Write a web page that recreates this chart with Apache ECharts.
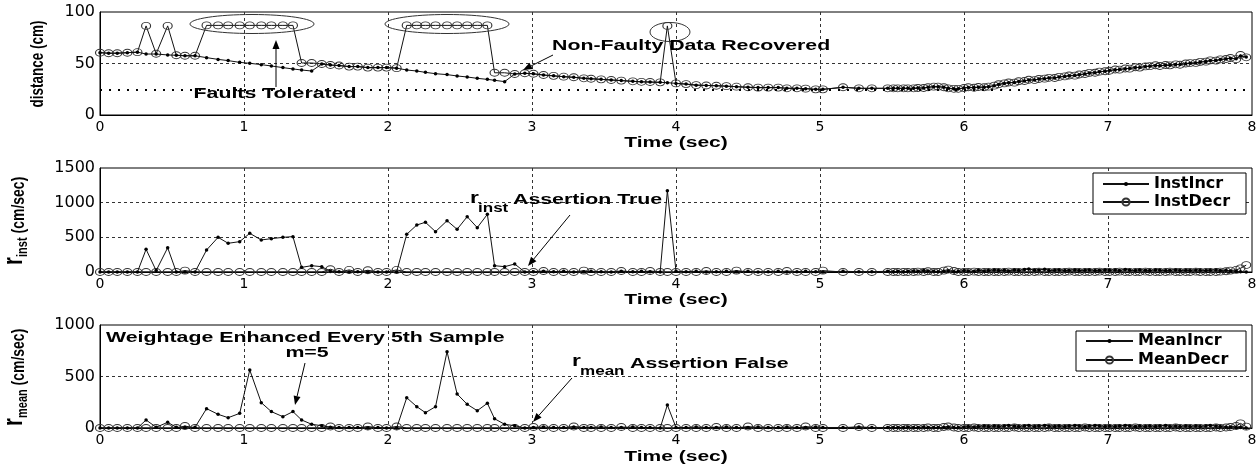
<!DOCTYPE html>
<html><head><meta charset="utf-8">
<script src="https://cdn.jsdelivr.net/npm/echarts@6/dist/echarts.min.js"></script>
<style>html,body{margin:0;padding:0;background:#fff}#c{width:1260px;height:469px}</style>
</head><body><div id="c"></div>
<script>
// ---------------- data ----------------
const T = [
0,0.06,0.12,0.19,0.26,0.32,0.39,0.47,0.53,0.59,
0.66,0.74,0.82,0.89,0.97,1.04,1.12,1.19,1.27,1.34,
1.40,1.47,1.54,1.60,1.66,1.73,1.79,1.86,1.93,1.99,
2.06,2.13,2.20,2.26,2.33,2.41,2.48,2.55,2.62,2.69,
2.74,2.81,2.88,2.95,3.01,3.08,3.15,3.22,3.29,3.36,
3.41,3.48,3.55,3.62,3.70,3.76,3.82,3.89,3.94,4.00,
4.07,4.14,4.21,4.28,4.35,4.42,4.50,4.57,4.64,4.71,
4.77,4.84,4.90,4.97,5.02,5.16,5.27,5.36,
5.47,5.51,5.54,5.58,5.61,5.65,5.68,5.72,5.75,5.79,5.82,5.86,5.89,5.93,5.96,
6.00,6.03,6.07,6.10,6.14,6.17,6.21,6.24,6.28,6.31,6.35,6.38,6.42,6.45,6.49,6.52,6.56,6.59,6.63,6.66,6.70,6.73,6.77,6.80,6.84,6.87,6.91,6.94,6.98,
7.01,7.05,7.08,7.12,7.15,7.19,7.22,7.26,7.29,7.33,7.36,7.40,7.43,7.47,7.50,7.54,7.57,7.61,7.64,7.68,7.71,7.75,7.78,7.82,7.85,7.89,7.92,7.96
];
const distRaw = [
60.5,60,60,60.5,61,86.5,59.5,86.5,58,57.5,
57.5,87,87,87,87,87,87,87,87,87,
50.5,50.5,49.5,48.5,48,47,47,46,46,46,
45.5,87,87,87,87,87,87,87,87,87,
41,41,39.8,40.5,40,38.8,38,37.2,36.6,35.6,
35.2,34.6,34,33.4,32.7,32.2,32,31.7,86.5,30.7,
30,29,28.7,28.4,28,27.5,26.9,26.6,26.6,26.6,
25.9,25.9,25.6,24.9,24.9,26.9,25.9,25.9,
25.9,25.9,25.9,25.9,25.9,25.9,26.2,26.2,26.9,27.5,27.5,26.9,25.9,25.4,25.4,
26.2,26.9,26.4,27.2,26.9,27.5,28.5,29.8,30.7,31.6,31.4,32.8,33.0,34.2,33.9,35.0,35.3,36.1,35.9,37.0,37.5,38.3,38.2,39.3,39.8,40.9,41.0,42.1,42.5,
43.0,44.2,44.0,45.2,45.0,46.3,46.0,47.2,47.4,48.3,47.6,48.6,48.2,49.2,48.8,50.0,50.4,50.6,51.6,51.8,53.0,52.8,54.0,54.4,55.4,54.2,58.3,56.0
];
const distFilt = [
60.5,60,60,60.5,61,59.2,59.2,58.3,58,57.5,
57.5,55.7,54,52.8,51.1,50.2,48.9,47.6,46,44.7,
43.7,42.7,49.5,48.5,48,47,47,46,46,46,
45.5,43.7,42.7,41.4,40.1,39.2,37.9,36.9,35.6,34.6,
33.7,32.4,39.8,40.5,40,38.8,38,37.2,36.6,35.6,
35.2,34.6,34,33.4,32.7,32.2,32,31.7,31.4,30.7,
30,29,28.7,28.4,28,27.5,26.9,26.6,26.6,26.6,
25.9,25.9,25.6,24.9,24.9,26.9,25.9,25.9,
25.9,25.9,25.9,25.9,25.9,25.9,26.2,26.2,26.9,27.5,27.5,26.9,25.9,25.4,25.4,
26.2,26.7,26.6,27.0,27.0,27.5,28.4,29.6,30.6,31.4,31.5,32.6,33.1,34.0,34.0,34.9,35.3,35.9,36.0,36.9,37.5,38.1,38.3,39.1,39.8,40.7,41.1,41.9,42.5,
43.1,44.0,44.1,45.0,45.1,46.1,46.2,47.0,47.4,48.0,47.8,48.4,48.4,49.0,49.0,49.8,50.3,50.6,51.4,51.9,52.8,52.9,53.8,54.4,55.1,54.6,57.2,56.2
];
const instIncr = [
0,0,0,0,0,327,20,350,0,0,0,
317,500,414,438,558,462,481,500,510,
67,91,77,10,5,0,5,0,0,0,0,
544,678,717,582,740,616,798,640,832,
91,77,115,
0,5,10,5,10,0,5,10,5,0,10,5,10,5,0,
1173,
10,5,10,0,5,10,5,10,0,5,10,0,5,10,5,0,10,5,5,
10,5,10,5,10,15,10,20,15,10,5,10,15,5,10,
20,15,10,25,15,20,30,20,25,15,30,20,35,45,25,30,40,20,25,30,20,25,30,20,25,30,20,25,30,
25,30,20,35,25,20,30,25,20,30,25,20,25,30,20,25,20,30,25,20,25,30,20,25,15,10,5,0
];
const instDecr = [
0,0,0,0,0,0,0,0,0,20,
0,0,0,0,0,0,0,0,0,0,
0,0,0,40,0,30,0,25,0,0,
30,0,0,0,0,0,0,0,0,0,
0,0,0,0,0,15,0,0,0,20,
0,0,0,15,0,0,15,0,0,0,
0,0,15,0,0,20,0,0,0,0,
15,0,0,0,20,0,0,0,
0,0,0,0,0,0,5,0,10,0,0,20,35,15,0,
0,0,5,0,0,0,0,0,0,5,0,0,0,0,0,5,0,0,0,0,0,5,0,0,0,0,0,5,0,
0,0,5,0,0,0,0,5,0,0,0,0,5,0,0,0,0,5,0,0,0,0,5,10,20,30,53,100
];
const meanIncr = [
0,0,0,0,0,78,7,55,7,7,7,
188,133,100,142,563,246,159,110,159,
78,36,22,7,5,5,5,0,5,0,0,
294,207,149,207,741,330,230,168,240,
90,36,22,
0,5,10,5,5,10,5,5,10,5,5,10,5,5,0,
223,
5,5,10,5,5,10,5,5,10,5,5,10,5,5,10,5,5,10,5,
5,5,5,5,10,5,5,10,5,5,5,5,10,5,5,
10,15,10,15,20,15,20,15,20,25,20,15,20,25,15,20,25,20,15,20,15,20,25,20,15,20,25,20,15,
20,15,20,25,20,15,20,15,20,15,20,25,15,20,15,20,15,20,15,20,25,20,15,10,10,5,5,0
];
const meanDecr = [
0,0,0,0,0,0,0,0,0,19,
0,0,0,0,0,0,0,0,0,0,
0,0,0,15,0,0,0,15,0,0,
15,0,0,0,0,0,0,0,0,0,
0,0,0,0,10,0,0,0,15,0,
0,0,0,10,0,0,0,0,0,0,
0,0,0,10,0,0,15,0,0,0,
0,0,15,0,0,0,10,0,
0,0,0,0,0,0,0,0,5,0,0,10,15,5,0,
0,0,5,0,0,0,0,0,0,0,5,0,0,0,0,0,0,5,0,0,0,0,0,0,5,0,0,0,0,
0,0,0,0,0,5,0,0,0,0,0,0,0,5,0,0,0,0,0,0,0,5,0,5,10,20,45,13
];
const X_TICKS = [0,1,2,3,4,5,6,7,8];
const DIST_TICKS = [0,50,100];
const INST_TICKS = [0,500,1000,1500];
const MEAN_TICKS = [0,500,1000];
const THRESHOLD = 25;

// ---------------- chart ----------------
const FONT = '"Liberation Sans", Arial, sans-serif';
const SX = 1.42;
const pairs = arr => T.map((t, i) => [t, arr[i]]);
const plain = v => String(v);

function xAx(i) {
  return {type:'value', gridIndex:i, min:X_TICKS[0], max:X_TICKS[X_TICKS.length-1], interval:X_TICKS[1]-X_TICKS[0],
    axisLine:{show:true,onZero:false,lineStyle:{color:'#000',width:1}}, axisTick:{show:false},
    splitLine:{show:true,showMinLine:false,showMaxLine:false,lineStyle:{color:'#333',type:[3,3],width:1}},
    axisLabel:{color:'#000',fontFamily:'DejaVu Sans',fontSize:14,margin:5,formatter:plain}};
}
function yAx(i, ticks) {
  return {type:'value', gridIndex:i, min:ticks[0], max:ticks[ticks.length-1], interval:ticks[1]-ticks[0],
    axisLine:{show:true,lineStyle:{color:'#000',width:1}}, axisTick:{show:false},
    splitLine:{show:true,showMinLine:false,showMaxLine:false,lineStyle:{color:'#333',type:[3,3],width:1}},
    axisLabel:{color:'#000',fontFamily:'DejaVu Sans',fontSize:16,margin:5,formatter:plain}};
}
function circleSeries(name, data, gi) {
  return {name, type:'line', xAxisIndex:gi, yAxisIndex:gi, data:pairs(data), symbol:'circle', symbolSize:[9,7],
    itemStyle:{color:'rgba(255,255,255,0)',borderColor:'#333',borderWidth:1},
    lineStyle:{color:'#111',width:1}, emphasis:{disabled:true}, silent:true, z:2};
}
function dotSeries(name, data, gi) {
  return {name, type:'line', xAxisIndex:gi, yAxisIndex:gi, data:pairs(data), symbol:'circle', symbolSize:3.5,
    itemStyle:{color:'#000'}, lineStyle:{color:'#111',width:1}, emphasis:{disabled:true}, silent:true, z:3};
}
function txt(str, x, y, size, align, extra) {
  return Object.assign({type:'text', x, y, scaleX:SX, z:20, silent:true,
    style:{text:str, fill:'#000', font:'bold '+size+'px '+FONT, align:align||'left', verticalAlign:'middle'}}, extra||{});
}
function arrow(x1, y1, x2, y2) {
  const dx=x2-x1, dy=y2-y1, L=Math.hypot(dx,dy), ux=dx/L, uy=dy/L, hl=9, hw=3.5;
  const bx=x2-ux*hl, by=y2-uy*hl;
  return [
    {type:'line', shape:{x1, y1, x2:bx, y2:by}, style:{stroke:'#000', lineWidth:1}, z:20, silent:true},
    {type:'polygon', shape:{points:[[x2,y2],[bx-uy*hw,by+ux*hw],[bx+uy*hw,by-ux*hw]]}, style:{fill:'#000'}, z:20, silent:true}
  ];
}
function ell(cx, cy, rx, ry) {
  return {type:'ellipse', shape:{cx, cy, rx, ry}, style:{fill:'none', stroke:'#333', lineWidth:1}, z:20, silent:true};
}
function ytitle(cx, cy, parts) {
  return {type:'group', x:cx, y:cy, rotation:Math.PI/2, scaleY:1.35, z:20, silent:true,
    children: parts.map(p => ({type:'text', x:p[1], y:p[2], z:20,
      style:{text:p[0], fill:'#000', font:'bold '+p[3]+'px '+FONT, align:p[4]||'left', verticalAlign:p[5]||'bottom'}}))};
}
function legendBox(x, y, w, h) {
  return {type:'rect', shape:{x, y, width:w, height:h}, style:{fill:'#fff', stroke:'#000', lineWidth:1}, z:3, silent:true};
}
function leg(name, left, top, ih, iw) {
  return {data:[name], left, top, orient:'vertical', itemWidth:iw, itemHeight:ih, padding:0, selectedMode:false, z:5,
    textStyle:{fontFamily:'DejaVu Sans', fontWeight:'bold', fontSize:16, color:'#000'}};
}

const graphics = [].concat(
  // axis titles
  [txt('Time (sec)', 676, 143, 14, 'center', {scaleX:1.5}),
   txt('Time (sec)', 676, 300, 14, 'center', {scaleX:1.5}),
   txt('Time (sec)', 676, 457, 14, 'center', {scaleX:1.5}),
   ytitle(37.5, 64, [['distance (cm)', 0, 0, 13.5, 'center', 'middle']]),
   ytitle(28, 221, [['r', -44, 0, 20], ['inst', -36, 2, 11], ['(cm/sec)', -12.5, 0, 14]]),
   ytitle(28, 378, [['r', -48, 0, 20], ['mean', -40, 2, 11], ['(cm/sec)', -7.5, 0, 14]])],
  // top plot annotations
  [ell(252, 24, 62, 9.5), ell(447, 24, 62, 9.5), ell(670, 32, 20, 9.5),
   txt('Faults Tolerated', 275, 94, 15, 'center'),
   txt('Non-Faulty Data Recovered', 552, 46, 15, 'left')],
  arrow(276, 87, 276, 40),
  arrow(553, 55, 523, 70),
  // middle plot annotations
  [txt('r', 470, 199, 16, 'left'), txt('inst', 478, 209, 12, 'left'), txt('Assertion True', 513, 200, 15, 'left')],
  arrow(570, 215, 528, 266),
  [legendBox(1093, 173, 153, 41)],
  // bottom plot annotations
  [txt('Weightage Enhanced Every 5th Sample', 106, 338, 15, 'left'),
   txt('m=5', 307, 353, 15, 'center'),
   txt('r', 572, 362, 16, 'left'), txt('mean', 580, 372, 12, 'left'), txt('Assertion False', 630, 364, 15, 'left')],
  arrow(305, 363, 295, 405),
  arrow(572, 378, 533, 422),
  [legendBox(1076, 331, 170, 40)]
);

const rawS = circleSeries('distRaw', distRaw, 0);
rawS.markLine = {silent:true, symbol:'none', label:{show:false}, animation:false,
  lineStyle:{color:'#000', type:[2,7], width:2}, data:[{yAxis:THRESHOLD}]};

const option = {
  animation:false,
  backgroundColor:'#fff',
  grid:[
    {left:100, right:8, top:12, height:103, show:true, borderColor:'#000', borderWidth:1, backgroundColor:'rgba(0,0,0,0)'},
    {left:100, right:8, top:168, height:104, show:true, borderColor:'#000', borderWidth:1, backgroundColor:'rgba(0,0,0,0)'},
    {left:100, right:8, top:325, height:103, show:true, borderColor:'#000', borderWidth:1, backgroundColor:'rgba(0,0,0,0)'}
  ],
  xAxis:[xAx(0), xAx(1), xAx(2)],
  yAxis:[yAx(0, DIST_TICKS), yAx(1, INST_TICKS), yAx(2, MEAN_TICKS)],
  legend:[
    leg('InstIncr', 1102, 176, 5, 46),
    leg('InstDecr', 1102, 194, 9, 46),
    leg('MeanIncr', 1085, 333, 5, 47),
    leg('MeanDecr', 1085, 352, 9, 47)
  ],
  series:[
    rawS,
    dotSeries('distFilt', distFilt, 0),
    circleSeries('InstDecr', instDecr, 1),
    dotSeries('InstIncr', instIncr, 1),
    circleSeries('MeanDecr', meanDecr, 2),
    dotSeries('MeanIncr', meanIncr, 2)
  ],
  graphic:{elements:graphics}
};
const chart = echarts.init(document.getElementById('c'));
chart.setOption(option);
</script>
</body></html>
